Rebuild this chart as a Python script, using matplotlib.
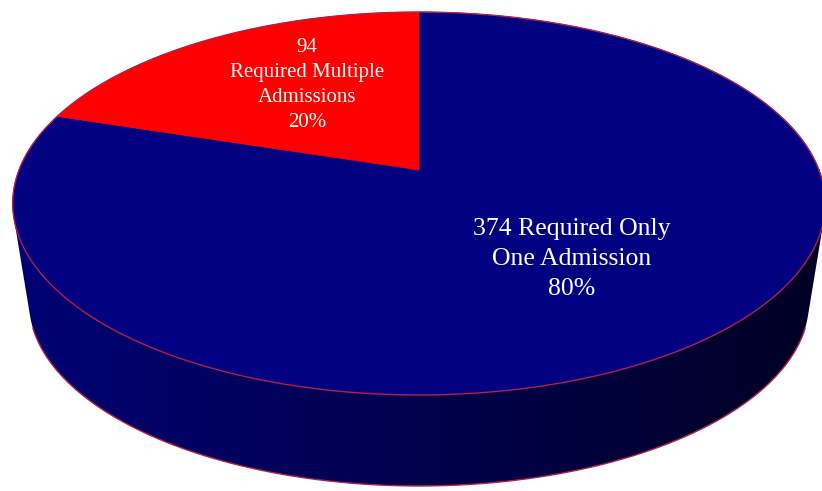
import numpy as np
import matplotlib
matplotlib.use("Agg")
import matplotlib.pyplot as plt
from matplotlib.patches import Polygon
from matplotlib.colors import LinearSegmentedColormap

# data
labels = ["Required Only\nOne Admission", "Required Multiple\nAdmissions"]
counts = [374, 94]
colors = ["#000080", "#FF0000"]

W, H = 822, 491
fig = plt.figure(figsize=(W / 100, H / 100), dpi=100)
ax = fig.add_axes([0, 0, 1, 1])
ax.set_xlim(0, W)
ax.set_ylim(H, 0)
ax.axis("off")

# perspective disk (pixel coords)
x0, y0 = 419, 170
k = 0.175
a, b = 400, 185.6
depth = 100
shrink = 0.96


def top_pt(t):
    u, v = np.cos(t), np.sin(t)
    w = 1 + k * v
    return x0 + a * u / w, y0 - b * v / w


def bot_pt(t):
    u, v = np.cos(t), np.sin(t)
    w = 1 + k * v
    return x0 + shrink * a * u / w, y0 + depth - shrink * b * v / w


def hull(points):
    pts = sorted(set(points))
    def cross(o, p, q):
        return (p[0] - o[0]) * (q[1] - o[1]) - (p[1] - o[1]) * (q[0] - o[0])
    lower, upper = [], []
    for p in pts:
        while len(lower) >= 2 and cross(lower[-2], lower[-1], p) <= 0:
            lower.pop()
        lower.append(p)
    for p in reversed(pts):
        while len(upper) >= 2 and cross(upper[-2], upper[-1], p) <= 0:
            upper.pop()
        upper.append(p)
    return lower[:-1] + upper[:-1]


# side wall: horizontal gradient clipped to the hull of both rims
ring = np.linspace(0, 2 * np.pi, 400, endpoint=False)
wall = hull([top_pt(t) for t in ring] + [bot_pt(t) for t in ring])
wall_patch = Polygon(wall, closed=True, facecolor="none", edgecolor="none")
ax.add_patch(wall_patch)
side_cmap = LinearSegmentedColormap.from_list(
    "side", ["#000074", "#00005a", "#000040", "#000024"])
grad = np.linspace(0, 1, 256).reshape(1, -1)
img = ax.imshow(grad, cmap=side_cmap, extent=(10, W, H, 150), aspect="auto",
                interpolation="bilinear", zorder=1)
img.set_clip_path(wall_patch)

# bottom outline
bx, by = zip(*[bot_pt(t) for t in np.linspace(np.pi * 1.1, np.pi * 1.9, 200)])
ax.plot(bx, by, color="#B0204A", linewidth=1.0, zorder=2)

# top face slices, starting at 12 o'clock, going counter-clockwise for red
total = sum(counts)
start = np.pi / 2
red_span = 2 * np.pi * counts[1] / total
spans = [(start + red_span, start + 2 * np.pi), (start, start + red_span)]
for (s, e), col in zip(spans, colors):
    tt = np.linspace(s, e, 300)
    pts = [(x0, y0)] + [top_pt(t) for t in tt]
    ax.add_patch(Polygon(pts, closed=True, facecolor=col, edgecolor=col,
                         linewidth=0.5, zorder=3))

# top rim line
ts = np.linspace(0, 2 * np.pi, 721)
tx, ty = zip(*[top_pt(t) for t in ts])
ax.plot(tx, ty, color="#B0204A", linewidth=1.0, zorder=4)

pct = [round(100 * c / total) for c in counts]
ax.text(572, 259, f"{counts[0]} {labels[0]}\n{pct[0]}%", ha="center",
        va="center", color="white", fontsize=18.5, family="Liberation Serif",
        linespacing=1.48, zorder=5)
ax.text(307, 85, f"{counts[1]}\n{labels[1]}\n{pct[1]}%", ha="center",
        va="center", color="white", fontsize=15, family="Liberation Serif",
        linespacing=1.42, zorder=5)

fig.savefig("out.png", dpi=100, facecolor="white")
